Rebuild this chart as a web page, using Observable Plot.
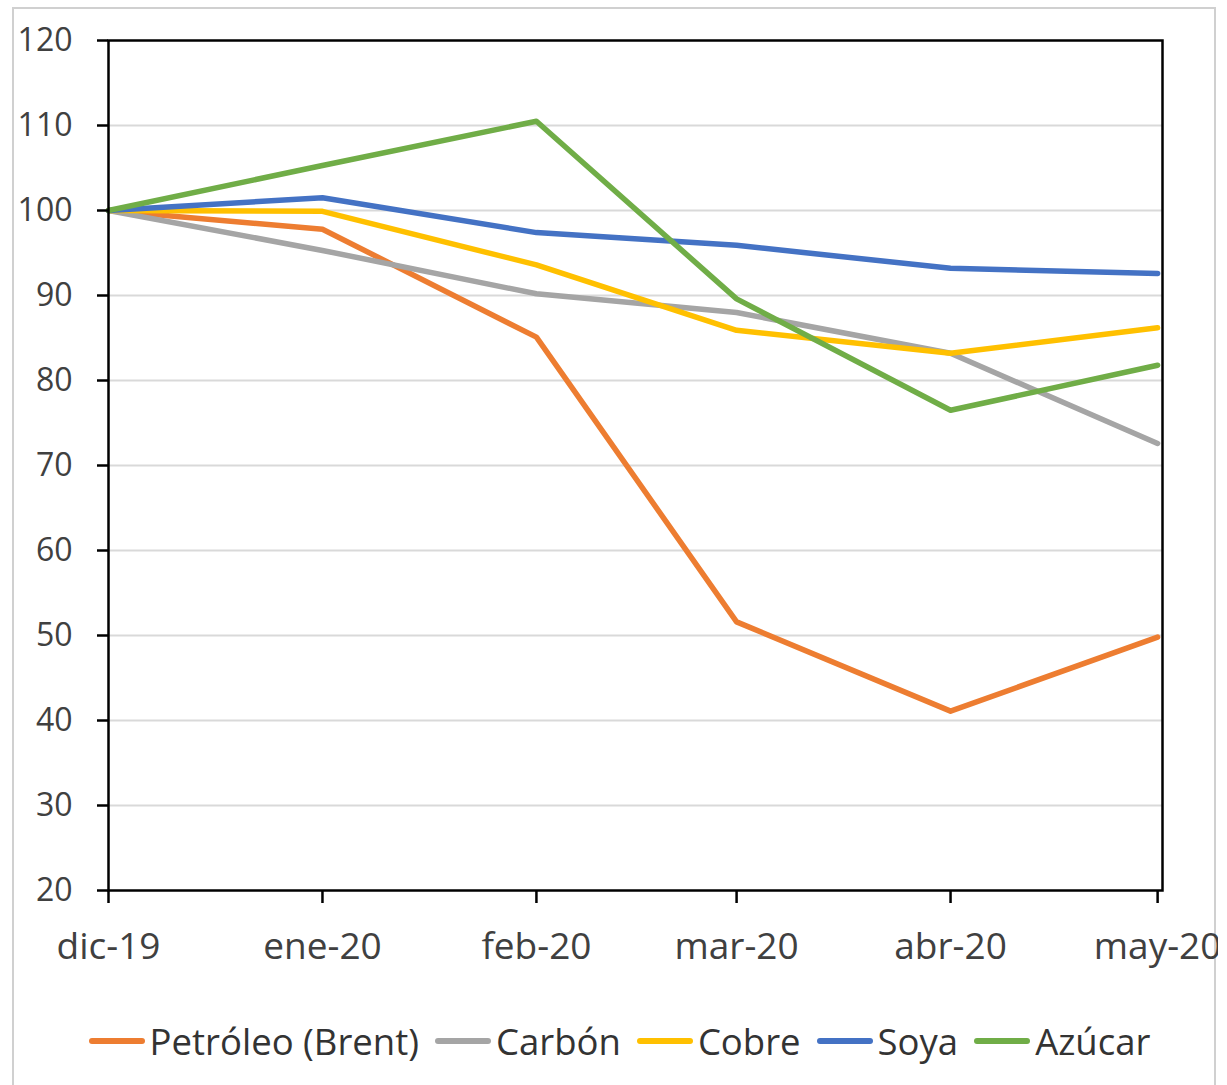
<!DOCTYPE html>
<html>
<head>
<meta charset="utf-8">
<script src="https://cdn.jsdelivr.net/npm/d3@7"></script>
<script src="https://cdn.jsdelivr.net/npm/@observablehq/plot@0.6"></script>
<style>
  html, body { margin: 0; padding: 0; background: #fff; }
  #wrap { position: relative; width: 1227px; height: 1085px; overflow: hidden; }
  #border { position: absolute; left: 12px; top: 7px; width: 1204px; height: 1100px; border: 2px solid #d0d0d0; box-sizing: border-box; }
  #clip { position: absolute; left: 0; top: 0; width: 1218px; height: 1000px; overflow: hidden; }
  #clip svg { max-width: none !important; }
  #legend { position: absolute; left: 6px; width: 1227px; top: 1016px; height: 50px; display: flex; justify-content: center; align-items: center;
            font-family: "Open Sans", sans-serif; font-size: 36.5px; color: #333; }
  .item { display: flex; align-items: center; margin: 0 8px; }
  .sw { width: 56px; height: 6px; border-radius: 3px; margin-right: 5px; }
</style>
</head>
<body>
<div id="wrap">
  <div id="border"></div>
  <div id="clip"></div>
  <div id="legend"></div>
</div>
<script>
const dates = ["2019-12-01", "2020-01-01", "2020-02-01", "2020-03-01", "2020-04-01", "2020-05-01"];
const monthLabels = ["dic-19", "ene-20", "feb-20", "mar-20", "abr-20", "may-20"];
const seriesNames = ["Petróleo (Brent)", "Carbón", "Cobre", "Soya", "Azúcar"];
const seriesColors = ["#ED7D31", "#A5A5A5", "#FFC000", "#4472C4", "#70AD47"];
const petroleo = [100, 97.8, 85.1, 51.6, 41.1, 49.8];
const carbon   = [100, 95.3, 90.2, 88.0, 83.2, 72.6];
const cobre    = [100, 99.9, 93.6, 85.9, 83.2, 86.2];
const soya     = [100, 101.5, 97.4, 95.9, 93.2, 92.6];
const azucar   = [100, 105.3, 110.5, 89.6, 76.5, 81.8];
const yTicks = [20, 30, 40, 50, 60, 70, 80, 90, 100, 110, 120];
const gridTicks = [30, 40, 50, 60, 70, 80, 90, 100, 110];

const allValues = [petroleo, carbon, cobre, soya, azucar];
const dateObjs = dates.map(d => new Date(d + "T00:00:00Z"));
const data = [];
seriesNames.forEach((s, si) => {
  allValues[si].forEach((v, i) => data.push({series: s, date: dateObjs[i], value: v}));
});

const chart = Plot.plot({
  width: 1227,
  height: 1000,
  marginLeft: 108,
  marginRight: 65,
  marginTop: 40,
  marginBottom: 110,
  style: {fontFamily: "'Open Sans', sans-serif", color: "#404040", background: "transparent", maxWidth: "none"},
  x: {type: "utc", domain: [dateObjs[0], new Date(Date.UTC(2020, 4, 1, 17))], label: null},
  y: {domain: [20, 120], label: null},
  color: {domain: seriesNames, range: seriesColors},
  marks: [
    Plot.gridY(gridTicks, {stroke: "#d9d9d9", strokeOpacity: 1, strokeWidth: 2}),
    Plot.lineY(data, {x: "date", y: "value", z: "series", stroke: "series", strokeWidth: 5.5, strokeLinecap: "round", strokeLinejoin: "round"}),
    Plot.frame({stroke: "#000", strokeWidth: 2.5}),
    Plot.axisY({ticks: yTicks, tickSize: 11, tickPadding: 25, stroke: "#000", strokeWidth: 2.5, fontSize: 32, fill: "#404040", label: null}),
    Plot.axisX({ticks: dateObjs, tickSize: 13, tickPadding: 29, stroke: "#000", strokeWidth: 2.5, fontSize: 37, fill: "#404040", label: null,
      tickFormat: d => monthLabels[dateObjs.findIndex(t => +t === +d)]})
  ]
});
chart.style.maxWidth = "none";
document.getElementById("clip").appendChild(chart);

const legend = document.getElementById("legend");
seriesNames.forEach((s, i) => {
  const it = document.createElement("div");
  it.className = "item";
  const sw = document.createElement("div");
  sw.className = "sw";
  sw.style.background = seriesColors[i];
  const tx = document.createElement("span");
  tx.textContent = s;
  it.appendChild(sw);
  it.appendChild(tx);
  legend.appendChild(it);
});
</script>
</body>
</html>
